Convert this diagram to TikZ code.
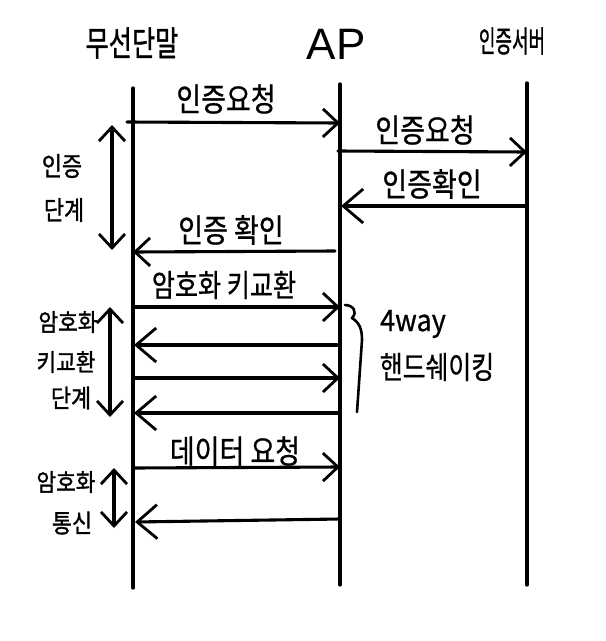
\documentclass[tikz,border=0pt]{standalone}
\usepackage{fontspec}
\usepackage{graphicx}
\newfontfamily\kr[FakeBold=0.8]{Noto Sans CJK KR}
\newfontfamily\krb[FakeBold=1.3]{Noto Sans CJK KR}
\newfontfamily\lat{Liberation Sans}
\newcommand\hwtall[2][1.2]{\scalebox{1}[#1]{#2}}
\usetikzlibrary{arrows.meta}
\begin{document}
\begin{tikzpicture}[x=1pt,y=-1pt,line width=3.1pt,line cap=round,line join=round,
  lbl/.style={font=\kr\fontsize{27}{30}\selectfont,inner sep=0pt},
  head/.style={font=\krb\fontsize{30}{32}\selectfont,inner sep=0pt},
  side/.style={font=\krb\fontsize{23}{25}\selectfont,inner sep=0pt},
  life/.style={line width=3.3pt},
  msg/.style={-{Straight Barb[length=15pt,width=28pt,line width=2.8pt]}},
  bigmsg/.style={-{Straight Barb[length=20pt,width=34pt,line width=2.8pt]}},
  span/.style={{Straight Barb[length=14pt,width=26pt,line width=2.8pt]}-{Straight Barb[length=14pt,width=26pt,line width=2.8pt]}}]
\useasboundingbox (0,0) rectangle (606,641);
% headers
\node[head] (hT) at (132,43) {\scalebox{0.84}[1.15]{무선단말}};
\node[font=\lat\fontsize{44}{46}\selectfont,inner sep=0pt] (hA) at (336,44) {AP};
\node[head] (hS) at (512,41) {\scalebox{0.6}[1.0]{인증서버}};
% lifelines
\coordinate (T0) at (133,88);  \coordinate (T1) at (133,588);
\coordinate (A0) at (340,84);  \coordinate (A1) at (340,585);
\coordinate (S0) at (527,83);  \coordinate (S1) at (527,585);
\draw[life] (T0) -- (T1);
\draw[life] (A0) -- (A1);
\draw[life] (S0) -- (S1);
% authentication phase
\coordinate (m1s) at (127,122); \coordinate (m1e) at (340,123);
\draw[msg] (m1s) -- (m1e);
\node[lbl] (l1) at (226,99) {\hwtall{인증요청}};
\coordinate (m2s) at (338,151); \coordinate (m2e) at (527,152);
\draw[msg] (m2s) -- (m2e);
\node[lbl] (l2) at (425,130) {\hwtall{인증요청}};
\coordinate (m3s) at (527,206); \coordinate (m3e) at (341,206);
\draw[bigmsg] (m3s) -- (m3e);
\node[lbl] (l3) at (432,184) {\hwtall{인증확인}};
\coordinate (m4s) at (335,251); \coordinate (m4e) at (133,252);
\draw[msg] (m4s) -- (m4e);
\node[lbl] (l4) at (231,230) {\hwtall{인증 확인}};
\coordinate (d1a) at (112,125); \coordinate (d1b) at (112,250);
\draw[span] (d1a) -- (d1b);
\node[side] (s1a) at (62,166) {\scalebox{0.95}[1.15]{인증}};
\node[side] (s1b) at (64,210) {\scalebox{0.95}[1.15]{단계}};
% key exchange phase
\coordinate (m5s) at (133,307); \coordinate (m5e) at (340,307);
\draw[msg] (m5s) -- (m5e);
\node[lbl] (l5) at (224,285) {\scalebox{0.93}[1.15]{암호화 키교환}};
\coordinate (m6s) at (337,345); \coordinate (m6e) at (134,345);
\draw[bigmsg] (m6s) -- (m6e);
\coordinate (m7s) at (133,378); \coordinate (m7e) at (340,378);
\draw[msg] (m7s) -- (m7e);
\coordinate (m8s) at (340,413); \coordinate (m8e) at (134,413);
\draw[bigmsg] (m8s) -- (m8e);
\coordinate (b0) at (345,305); \coordinate (b1) at (352,318); \coordinate (b2) at (357,412);
\draw[line width=2.6pt] (b0) .. controls (353,305) and (358,312) .. (b1) .. controls (360,323) and (362,330) .. (362,340) -- (b2);
\node[lbl] (w1) at (413,324) {\hwtall[1.1]{4way}};
\node[lbl] (w2) at (437,367) {\scalebox{0.92}[1.15]{핸드쉐이킹}};
\coordinate (d2a) at (110,307); \coordinate (d2b) at (110,417);
\draw[span] (d2a) -- (d2b);
\node[side] (s2a) at (68,322) {\scalebox{0.93}[1.05]{암호화}};
\node[side] (s2b) at (66,362) {\scalebox{0.93}[1.05]{키교환}};
\node[side] (s2c) at (71,398) {\scalebox{0.95}[1.1]{단계}};
% encrypted communication
\coordinate (m9s) at (133,468); \coordinate (m9e) at (340,467);
\draw[msg] (m9s) -- (m9e);
\node[lbl] (l9) at (235,451) {\hwtall{데이터 요청}};
\coordinate (m10s) at (340,519); \coordinate (m10e) at (135,522);
\draw[bigmsg] (m10s) -- (m10e);
\coordinate (d3a) at (114,468); \coordinate (d3b) at (114,528);
\draw[span] (d3a) -- (d3b);
\node[side] (s3a) at (66,482) {\scalebox{0.93}[1.05]{암호화}};
\node[side] (s3b) at (72,523) {\scalebox{0.95}[1.1]{통신}};
\end{tikzpicture}
\end{document}
